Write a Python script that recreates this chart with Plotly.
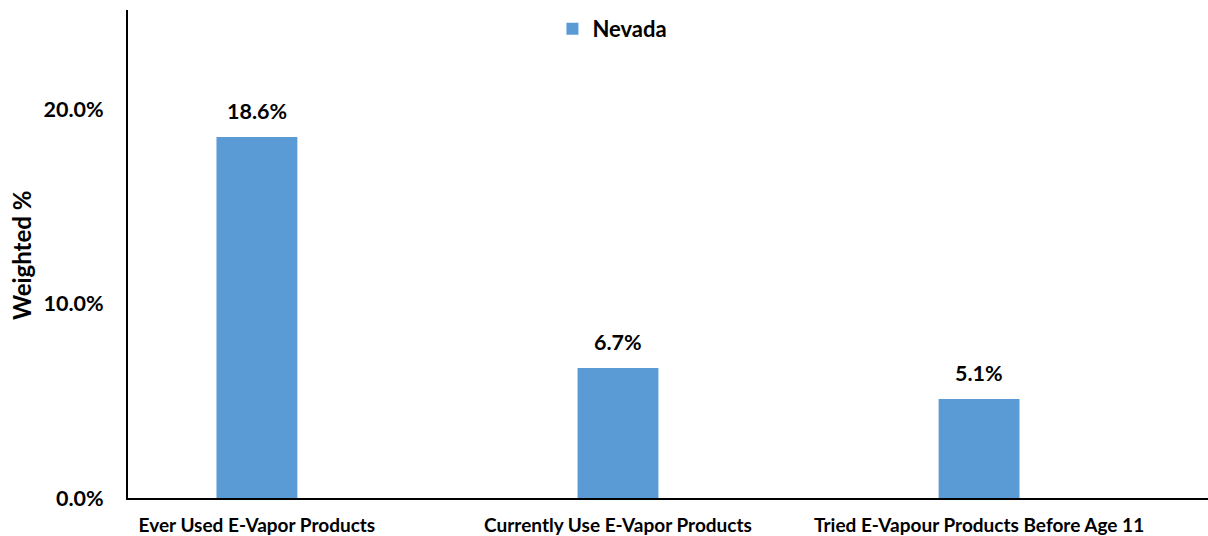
import plotly.graph_objects as go

categories = ["Ever Used E-Vapor Products", "Currently Use E-Vapor Products",
              "Tried E-Vapour Products Before Age 11"]
nevada = [18.6, 6.7, 5.1]
y_ticks = [0, 10, 20]
y_tick_labels = ["0.0%", "10.0%", "20.0%"]
y_title = "Weighted %"

FONT = "Lato"
BAR = "#5B9BD5"

fig = go.Figure()
fig.add_trace(go.Bar(
    x=categories, y=nevada, name="Nevada",
    marker=dict(color=BAR, line=dict(width=0)),
    width=0.224,
))

# value labels above each bar
for c, v in zip(categories, nevada):
    fig.add_annotation(
        x=c, y=v, text=f"<b>{v:.1f}%</b>", showarrow=False,
        yanchor="bottom", yshift=11,
        font=dict(family=FONT, size=21.5, color="black"),
    )

# vertical axis title
fig.add_annotation(
    xref="paper", yref="paper", x=-0.098, y=0.496,
    text=f"<b>{y_title}</b>", textangle=-90, showarrow=False,
    xanchor="center", yanchor="middle",
    font=dict(family=FONT, size=24, color="black"),
)

fig.update_layout(
    width=1208, height=536,
    margin=dict(l=128, r=0, t=10, b=38),
    paper_bgcolor="white", plot_bgcolor="white",
    showlegend=True,
    legend=dict(
        x=0.393, xanchor="left", y=0.961, yanchor="middle",
        orientation="h", bgcolor="rgba(0,0,0,0)",
        font=dict(family=FONT, size=22, color="black", weight="bold"),
        itemwidth=30,
    ),
    font=dict(family=FONT, color="black"),
)

fig.update_xaxes(
    range=[-0.357, 2.634], automargin=False,
    showline=True, linecolor="black", linewidth=2,
    showgrid=False, ticks="", ticklabelstandoff=9,
    tickfont=dict(family=FONT, size=19, color="black", weight="bold"),
)
fig.update_yaxes(
    range=[0, 25.15], automargin=False,
    tickvals=y_ticks, ticktext=y_tick_labels,
    showline=True, linecolor="black", linewidth=2,
    showgrid=False, zeroline=False, ticks="", ticklabelstandoff=18,
    tickfont=dict(family=FONT, size=21.5, color="black", weight="bold"),
)

fig.write_html("out.html")
